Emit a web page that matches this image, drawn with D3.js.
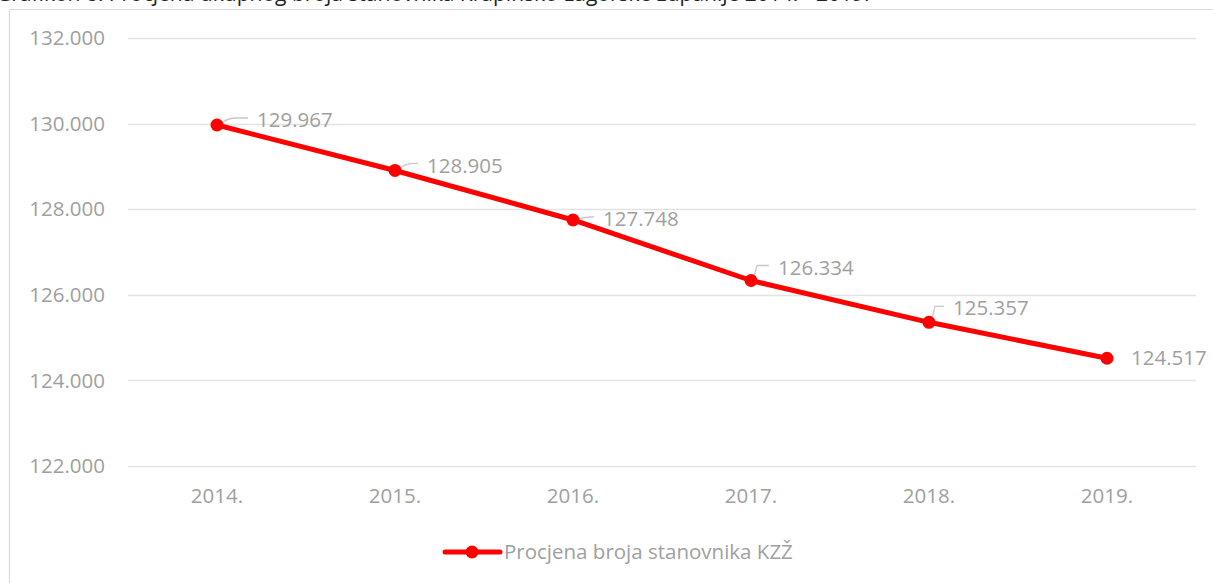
<!DOCTYPE html>
<html>
<head>
<meta charset="utf-8">
<script src="https://cdn.jsdelivr.net/npm/d3@7"></script>
<style>
	body { margin: 0; background: #fff; }
	svg { display: block; font-family: "Open Sans", sans-serif; }
	.grid line { stroke: #e3e3e3; stroke-width: 1.3; }
	.tick-label { fill: #a0a0a0; font-size: 20.5px; }
	.value-label { fill: #a0a0a0; font-size: 20.5px; }
	.leader { fill: none; stroke: #c8c8c8; stroke-width: 1.3; }
</style>
</head>
<body>
<div class="chart"></div>
<script>

const title = "Grafikon 8. Procjena ukupnog broja stanovnika Krapinsko-zagorske županije 2014. - 2019.";
const seriesName = "Procjena broja stanovnika KZŽ";
const years = ["2014.", "2015.", "2016.", "2017.", "2018.", "2019."];
const population = [129967, 128905, 127748, 126334, 125357, 124517];
const yTicks = [122000, 124000, 126000, 128000, 130000, 132000];

// label placement (dx, dy from point, leader style)
const labelOffsets = [
	{ dx: 40, dy: -5, leader: "curve" },
	{ dx: 32, dy: -5, leader: "curve" },
	{ dx: 30, dy: -1, leader: "curve" },
	{ dx: 27, dy: -13, leader: "elbow" },
	{ dx: 24, dy: -14, leader: "elbow" },
	{ dx: 24, dy: 0, leader: "none" }
];

const width = 1213;
const height = 583;
const plotLeft = 128;
const plotRight = 1196;
const plotTop = 38;
const plotBottom = 466;

const fmt = (v) => d3.format(",.0f")(v).replace(/,/g, ".");

const svg = d3.select(".chart")
	.append("svg")
		.attr("width", width)
		.attr("height", height);

// frame and title (cropped at the top, as in the source)
svg.append("path")
	.attr("d", `M9.5,${height} V9.5 H${width}`)
	.attr("fill", "none")
	.attr("stroke", "#d9d9d9")
	.attr("stroke-width", 1.2);

svg.append("text")
	.attr("x", -4)
	.attr("y", 1)
	.attr("fill", "#222")
	.style("font-size", "21px")
	.text(title);

// scales
const x = d3.scalePoint().domain(years).range([plotLeft, plotRight]).padding(0.5);
const y = d3.scaleLinear().domain([122000, 132000]).range([plotBottom, plotTop]);

// grid lines
svg.append("g")
	.attr("class", "grid")
	.selectAll("line")
		.data(yTicks).enter()
	.append("line")
		.attr("x1", plotLeft)
		.attr("x2", plotRight)
		.attr("y1", (d) => Math.round(y(d)) + 0.5)
		.attr("y2", (d) => Math.round(y(d)) + 0.5);

// y axis labels
svg.append("g")
	.selectAll("text")
		.data(yTicks).enter()
	.append("text")
		.attr("class", "tick-label")
		.attr("x", 105)
		.attr("y", (d) => y(d))
		.attr("dy", "0.35em")
		.attr("text-anchor", "end")
		.text(fmt);

// x axis labels
svg.append("g")
	.selectAll("text")
		.data(years).enter()
	.append("text")
		.attr("class", "tick-label")
		.attr("x", (d) => x(d))
		.attr("y", 496)
		.attr("dy", "0.35em")
		.attr("text-anchor", "middle")
		.text((d) => d);

const points = years.map((yr, i) => ({ year: yr, value: population[i], off: labelOffsets[i] }));

// series line
const line = d3.line()
	.x((d) => x(d.year))
	.y((d) => y(d.value));

svg.append("path")
	.datum(points)
	.attr("d", line)
	.attr("fill", "none")
	.attr("stroke", "#ff0000")
	.attr("stroke-width", 5)
	.attr("stroke-linejoin", "round");

// leader lines
svg.append("g")
	.selectAll("path")
		.data(points.filter((d) => d.off.leader !== "none")).enter()
	.append("path")
		.attr("class", "leader")
		.attr("d", (d) => {
			const px = x(d.year), py = y(d.value);
			const ex = px + d.off.dx - 9, ey = py + d.off.dy - 2;
			if (d.off.leader === "elbow") {
				return `M${px + 3},${py - 4} L${px + 6},${ey} H${ex}`;
			}
			return `M${px + 2},${py} Q${px + 10},${ey} ${px + 18},${ey} H${ex}`;
		});

// markers
svg.append("g")
	.selectAll("circle")
		.data(points).enter()
	.append("circle")
		.attr("cx", (d) => x(d.year))
		.attr("cy", (d) => y(d.value))
		.attr("r", 6.5)
		.attr("fill", "#ff0000");

// value labels
svg.append("g")
	.selectAll("text")
		.data(points).enter()
	.append("text")
		.attr("class", "value-label")
		.attr("x", (d) => x(d.year) + d.off.dx)
		.attr("y", (d) => y(d.value) + d.off.dy)
		.attr("dy", "0.35em")
		.text((d) => fmt(d.value));

// legend
const legend = svg.append("g").attr("transform", "translate(445, 552)");
legend.append("line")
	.attr("x1", 0)
	.attr("x2", 55)
	.attr("stroke", "#ff0000")
	.attr("stroke-width", 5)
	.attr("stroke-linecap", "round");
legend.append("circle")
	.attr("cx", 27)
	.attr("r", 6.5)
	.attr("fill", "#ff0000");
legend.append("text")
	.attr("class", "tick-label")
	.attr("x", 59)
	.attr("dy", "0.35em")
	.text(seriesName);

</script>
</body>
</html>
